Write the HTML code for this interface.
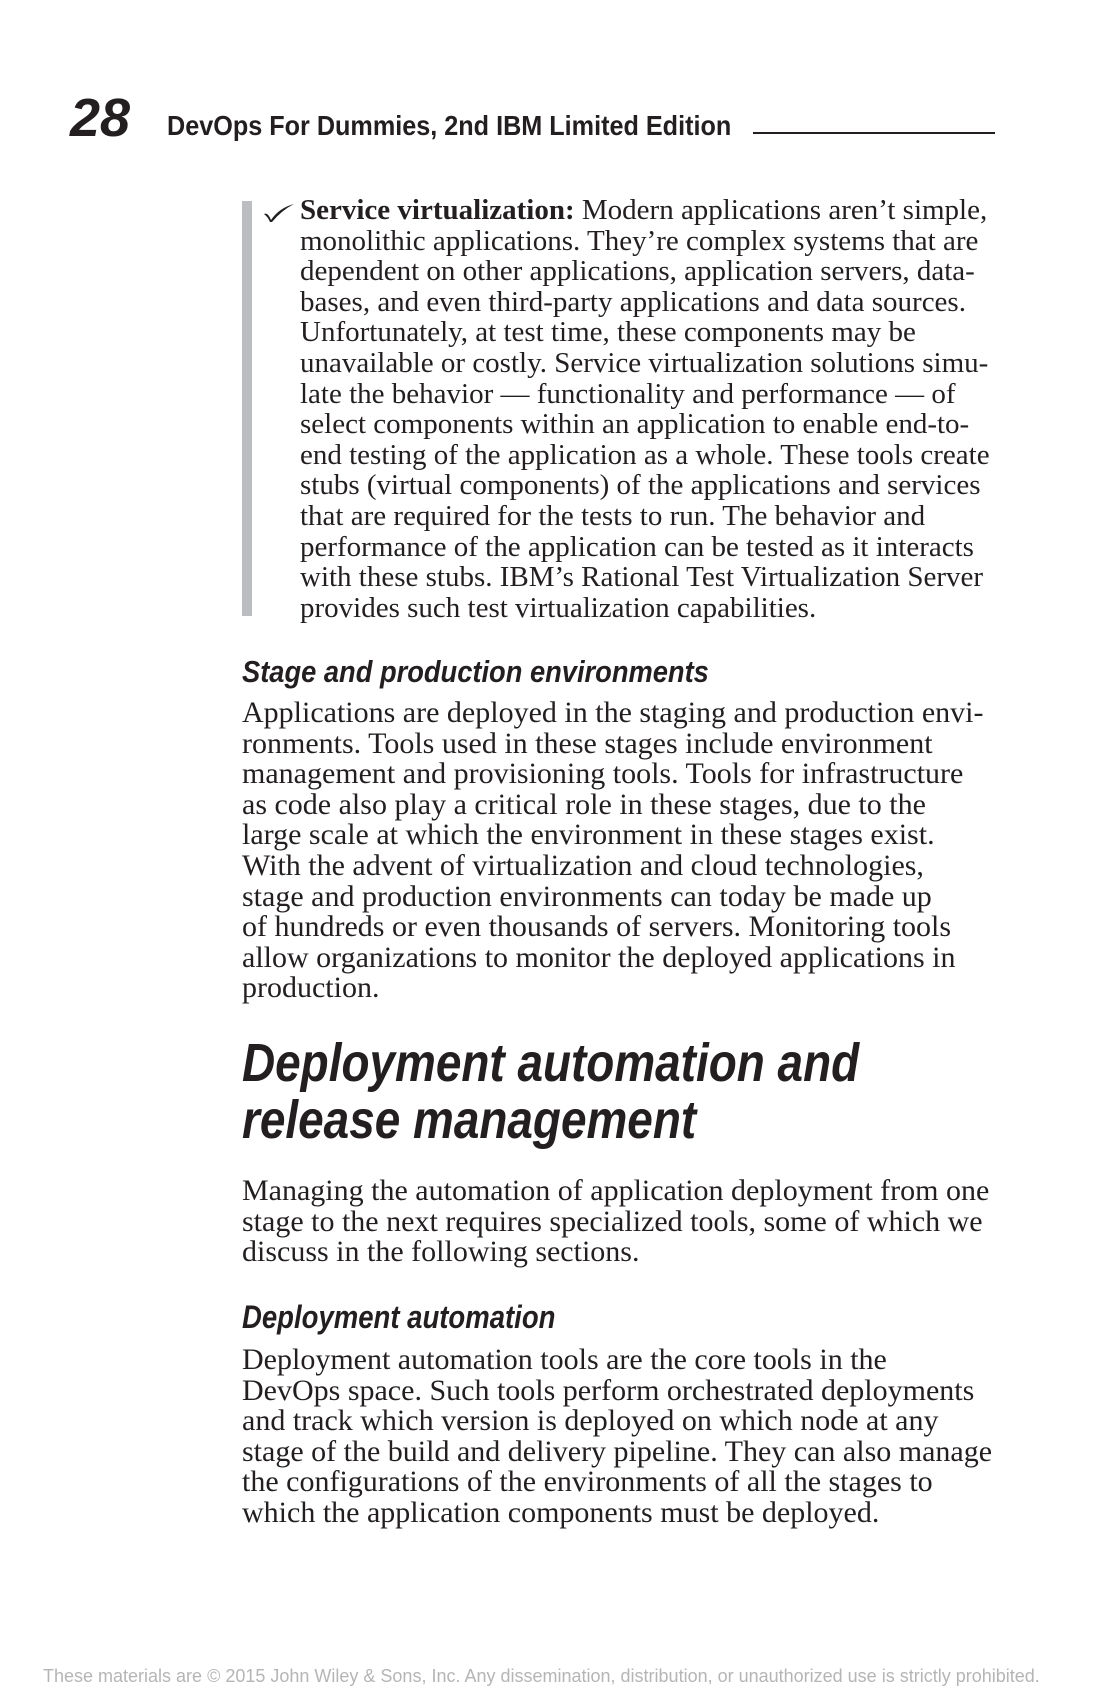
<!DOCTYPE html>
<html><head><meta charset="utf-8"><style>
html,body{margin:0;padding:0;background:#fff;}
body{width:1100px;height:1700px;position:relative;overflow:hidden;color:#231f20;}
.a{position:absolute;white-space:nowrap;}
.s{font-family:"Liberation Serif",serif;font-size:29px;line-height:30.6px;}
.p{font-size:30px;}
.h{font-family:"Liberation Sans",sans-serif;font-weight:bold;font-style:italic;transform-origin:0 0;}
</style></head><body>
<div class="a h" style="left:70px;top:91px;font-size:54px;line-height:54px;">28</div>
<div class="a" style="left:167px;top:112px;font-family:'Liberation Sans',sans-serif;font-weight:bold;font-size:28px;line-height:28px;transform:scaleX(0.9);transform-origin:0 0;">DevOps For Dummies, 2nd IBM Limited Edition</div>
<div class="a" style="left:753px;top:132px;width:242px;height:2px;background:#231f20;"></div>

<div class="a" style="left:242px;top:201px;width:10px;height:415px;background:#bcbdc0;"></div>
<svg class="a" style="left:263px;top:203px" width="32" height="20" viewBox="0 0 32 20"><path d="M1 11 Q5 9 8 17 Q16 5 31 1 Q19 7 9 19 L7 19 Q5 14 1 11Z" fill="#231f20"/></svg>
<div class="a s" style="left:300px;top:195px;">
<b>Service virtualization:</b> Modern applications aren’t simple,<br>
monolithic applications. They’re complex systems that are<br>
dependent on other applications, application servers, data-<br>
bases, and even third-party applications and data sources.<br>
Unfortunately, at test time, these components may be<br>
unavailable or costly. Service virtualization solutions simu-<br>
late the behavior — functionality and performance — of<br>
select components within an application to enable end-to-<br>
end testing of the application as a whole. These tools create<br>
stubs (virtual components) of the applications and services<br>
that are required for the tests to run. The behavior and<br>
performance of the application can be tested as it interacts<br>
with these stubs. IBM’s Rational Test Virtualization Server<br>
provides such test virtualization capabilities.</div>

<div class="a h" style="left:242px;top:656px;font-size:31px;line-height:31px;transform:scaleX(0.88);">Stage and production environments</div>
<div class="a s p" style="left:242px;top:698px;">
Applications are deployed in the staging and production envi-<br>
ronments. Tools used in these stages include environment<br>
management and provisioning tools. Tools for infrastructure<br>
as code also play a critical role in these stages, due to the<br>
large scale at which the environment in these stages exist.<br>
With the advent of virtualization and cloud technologies,<br>
stage and production environments can today be made up<br>
of hundreds or even thousands of servers. Monitoring tools<br>
allow organizations to monitor the deployed applications in<br>
production.</div>

<div class="a h" style="left:242px;top:1035px;font-size:54px;line-height:57px;transform:scaleX(0.85);">Deployment automation and<br>release management</div>
<div class="a s p" style="left:242px;top:1176px;">
Managing the automation of application deployment from one<br>
stage to the next requires specialized tools, some of which we<br>
discuss in the following sections.</div>

<div class="a h" style="left:242px;top:1301px;font-size:32px;line-height:32px;transform:scaleX(0.86);">Deployment automation</div>
<div class="a s p" style="left:242px;top:1345px;">
Deployment automation tools are the core tools in the<br>
DevOps space. Such tools perform orchestrated deployments<br>
and track which version is deployed on which node at any<br>
stage of the build and delivery pipeline. They can also manage<br>
the configurations of the environments of all the stages to<br>
which the application components must be deployed.</div>

<div class="a" style="left:43px;top:1667px;font-family:'Liberation Sans',sans-serif;font-size:18px;line-height:18px;color:#b5b5b5;">These materials are © 2015 John Wiley &amp; Sons, Inc. Any dissemination, distribution, or unauthorized use is strictly prohibited.</div>
</body></html>
